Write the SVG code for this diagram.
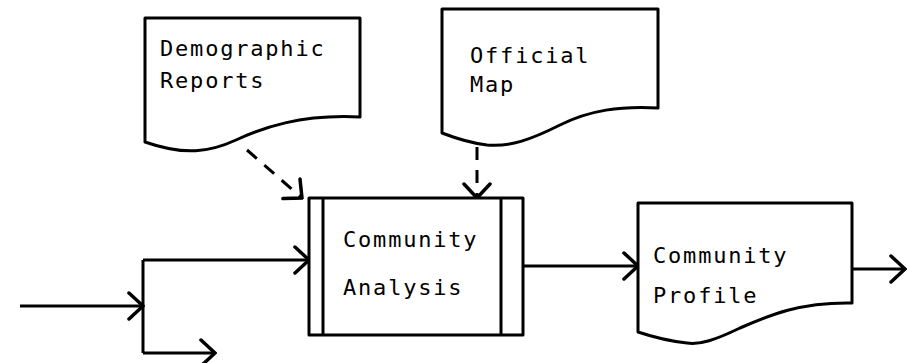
<svg xmlns="http://www.w3.org/2000/svg" width="907" height="363" viewBox="0 0 907 363">
<style>
.shape{fill:#fff;stroke:#000;stroke-width:3;stroke-linejoin:round}
.line{fill:none;stroke:#000;stroke-width:3}
.dash{fill:none;stroke:#000;stroke-width:3;stroke-dasharray:13 10}
text{font-family:"DejaVu Sans Mono","Liberation Mono",monospace;font-size:22px;letter-spacing:1.8px;fill:#000}
</style>
<defs>
<marker id="arr" viewBox="0 0 18 30" refX="16" refY="15" markerWidth="18" markerHeight="30" markerUnits="userSpaceOnUse" orient="auto">
<path d="M2,2 L16,15 L2,28" fill="none" stroke="#000" stroke-width="3.5" stroke-linecap="round"/>
</marker>
</defs>
<rect width="907" height="363" fill="#fff"/>
<g id="connectors">
<path class="line" d="M20,306 H143" marker-end="url(#arr)"/>
<path class="line" d="M143,260 V353"/>
<path class="line" d="M143,260 H309" marker-end="url(#arr)"/>
<path class="line" d="M143,353 H215" marker-end="url(#arr)"/>
<path class="line" d="M523,266 H638" marker-end="url(#arr)"/>
<path class="line" d="M852,269 H905" marker-end="url(#arr)"/>
<path class="dash" d="M247,150 L302,198" marker-end="url(#arr)"/>
<path class="dash" d="M477,147 V198" marker-end="url(#arr)"/>
</g>
<g id="demographic-reports">
<path class="shape" d="M145,18 H360 V117 C300,114 262,128 236,140 C210,152 185,156 145,142 Z"/>
<text x="160" y="56">Demographic</text>
<text x="160" y="88">Reports</text>
</g>
<g id="official-map">
<path class="shape" d="M442,9 H658 V108 C620,106 590,110 560,125 C530,140 510,147 487,145 C470,143 455,138 442,133 Z"/>
<text x="470" y="63">Official</text>
<text x="470" y="92">Map</text>
</g>
<g id="community-analysis">
<rect class="shape" x="309" y="198" width="214" height="137"/>
<path class="line" d="M323,198 V335 M501,198 V335"/>
<text x="343" y="247">Community</text>
<text x="343" y="295">Analysis</text>
</g>
<g id="community-profile">
<path class="shape" d="M638,203 H852 V303 C800,302 770,315 740,328 C715,340 700,345 687,343 C668,341 650,336 638,332 Z"/>
<text x="653" y="263">Community</text>
<text x="653" y="303">Profile</text>
</g>
</svg>
